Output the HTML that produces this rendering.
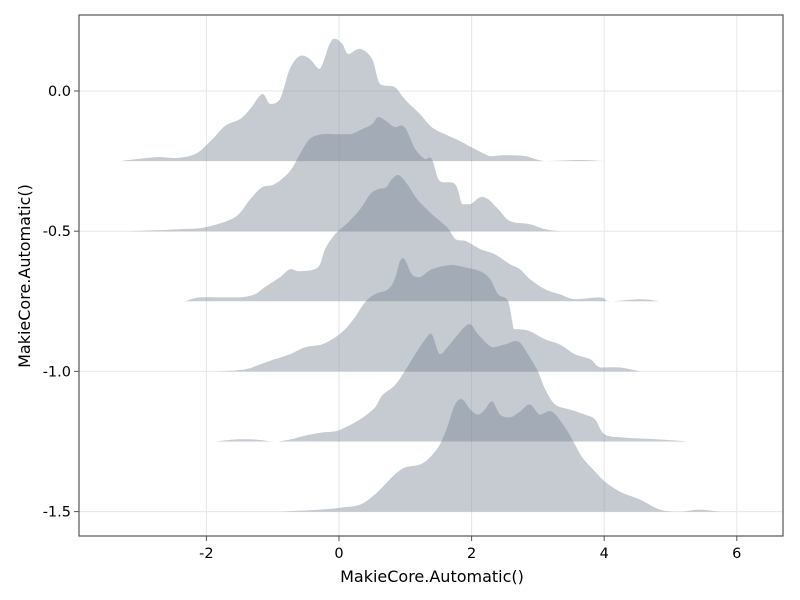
<!DOCTYPE html>
<html><head><meta charset="utf-8"><style>
body{margin:0;background:#fff;}
svg{display:block;font-family:"DejaVu Sans","Liberation Sans",sans-serif;}
</style></head><body>
<svg id="chart" width="800" height="600" viewBox="0 0 800 600" xmlns="http://www.w3.org/2000/svg">
<g id="grid"></g>
<g id="ridges"></g>
<g id="axes"></g>
</svg>
<script>
const xTicks=[-2,0,2,4,6];
const yTicks=[0,-0.5,-1,-1.5];
const yTickLabels=["0.0","-0.5","-1.0","-1.5"];
const baselines=[-0.25,-0.5,-0.75,-1.0,-1.25,-1.5];
const r1x=[-3.3,-2.78,-2.47,-2.17,-1.95,-1.72,-1.49,-1.34,-1.16,-1.04,-0.89,-0.74,-0.59,-0.44,-0.29,-0.14,-0.06,0.05,0.14,0.32,0.5,0.62,0.84,0.99,1.22,1.4,1.6,1.83,2.05,2.28,2.5,2.81,3.11,3.63,4.0];
const r1h=[0,0.014,0.011,0.025,0.068,0.125,0.15,0.186,0.239,0.204,0.221,0.329,0.375,0.364,0.329,0.418,0.436,0.418,0.382,0.4,0.364,0.275,0.264,0.221,0.168,0.121,0.096,0.071,0.043,0.018,0.021,0.018,0,0.004,0];
const r2x=[-3.15,-2.4,-2.02,-1.57,-1.34,-1.16,-0.97,-0.74,-0.59,-0.44,-0.26,-0.06,0.17,0.35,0.5,0.59,0.71,0.84,0.99,1.15,1.3,1.4,1.52,1.75,1.86,1.98,2.13,2.25,2.4,2.58,2.88,3.11,3.33];
const r2h=[0,0.007,0.014,0.05,0.114,0.157,0.168,0.214,0.275,0.329,0.346,0.346,0.346,0.364,0.382,0.407,0.393,0.371,0.371,0.293,0.257,0.257,0.179,0.168,0.096,0.096,0.121,0.114,0.079,0.036,0.025,0.007,0];
const r3x=[-2.32,-2.1,-1.79,-1.49,-1.27,-1.12,-0.89,-0.74,-0.59,-0.32,-0.21,-0.06,0.14,0.32,0.47,0.59,0.71,0.8,0.9,1.03,1.18,1.4,1.63,1.76,1.92,2.13,2.35,2.58,2.73,2.88,3.11,3.33,3.56,3.94,4.09,4.54,4.84];
const r3h=[0,0.014,0.014,0.014,0.025,0.05,0.086,0.114,0.107,0.121,0.186,0.239,0.282,0.329,0.382,0.4,0.407,0.436,0.45,0.418,0.364,0.311,0.264,0.221,0.214,0.186,0.168,0.132,0.114,0.079,0.043,0.025,0.007,0.014,0,0.007,0];
const r4x=[-1.79,-1.42,-1.19,-0.97,-0.74,-0.51,-0.26,-0.06,0.09,0.24,0.39,0.54,0.74,0.84,0.92,0.99,1.1,1.22,1.4,1.67,1.9,2.13,2.28,2.4,2.55,2.64,2.73,2.88,3.11,3.33,3.56,3.79,3.94,4.24,4.54];
const r4h=[0,0.007,0.025,0.043,0.061,0.086,0.096,0.121,0.15,0.193,0.246,0.275,0.293,0.329,0.393,0.4,0.346,0.336,0.364,0.379,0.371,0.357,0.329,0.275,0.25,0.15,0.15,0.143,0.114,0.096,0.061,0.043,0.014,0.014,0];
const r5x=[-1.87,-1.57,-1.27,-0.97,-0.74,-0.51,-0.26,-0.06,0.09,0.32,0.54,0.65,0.84,0.99,1.15,1.3,1.4,1.52,1.67,1.86,1.98,2.1,2.31,2.5,2.7,2.85,3.0,3.11,3.26,3.48,3.71,3.86,4.01,4.31,4.84,5.29];
const r5h=[0,0.007,0.007,0,0.007,0.021,0.032,0.036,0.05,0.079,0.121,0.164,0.2,0.25,0.311,0.364,0.382,0.311,0.346,0.4,0.418,0.382,0.336,0.346,0.357,0.311,0.25,0.186,0.132,0.114,0.096,0.079,0.025,0.014,0.007,0];
const r6x=[-0.89,-0.29,0.02,0.32,0.54,0.69,0.84,0.99,1.22,1.37,1.52,1.63,1.75,1.86,1.98,2.1,2.2,2.31,2.43,2.58,2.73,2.88,3.03,3.21,3.41,3.56,3.67,3.86,4.01,4.24,4.54,4.84,5.14,5.44,5.75,6.0];
const r6h=[0,0.007,0.014,0.025,0.061,0.096,0.132,0.157,0.168,0.193,0.239,0.3,0.382,0.4,0.364,0.346,0.364,0.393,0.346,0.336,0.357,0.382,0.346,0.357,0.3,0.239,0.193,0.143,0.107,0.071,0.043,0.007,0,0.007,0,0];
const ridgeX=[r1x,r2x,r3x,r4x,r5x,r6x];
const ridgeH=[r1h,r2h,r3h,r4h,r5h,r6h];

const L=79,R=783,T=15,B=536;
const sx=v=>339+v*66.3;
const sy=v=>91-v*280.4;
const NS="http://www.w3.org/2000/svg";
function mk(tag,attrs,parent){const e=document.createElementNS(NS,tag);for(const k in attrs)e.setAttribute(k,attrs[k]);parent.appendChild(e);return e;}
const grid=document.getElementById('grid'),ridges=document.getElementById('ridges'),axes=document.getElementById('axes');
xTicks.forEach(t=>{const l=mk('line',{x1:sx(t),x2:sx(t),y1:T,y2:B,stroke:'#e6e6e6','stroke-width':1},grid);

});
yTicks.forEach(t=>{const l=mk('line',{x1:L,x2:R,y1:sy(t),y2:sy(t),stroke:'#e6e6e6','stroke-width':1},grid);

});
function smooth(pts){let d=`M${pts[0][0]},${pts[0][1]}`;for(let i=0;i<pts.length-1;i++){const p0=pts[Math.max(0,i-1)],p1=pts[i],p2=pts[i+1],p3=pts[Math.min(pts.length-1,i+2)];
const c1x=p1[0]+(p2[0]-p0[0])/6,c1y=p1[1]+(p2[1]-p0[1])/6,c2x=p2[0]-(p3[0]-p1[0])/6,c2y=p2[1]-(p3[1]-p1[1])/6;
d+=` C${c1x.toFixed(1)},${Math.min(c1y,Math.max(p1[1],p2[1])).toFixed(1)} ${c2x.toFixed(1)},${Math.min(c2y,Math.max(p1[1],p2[1])).toFixed(1)} ${p2[0].toFixed(1)},${p2[1].toFixed(1)}`;}return d;}
ridgeX.forEach((xs,i)=>{const b=baselines[i];const pts=xs.map((x,j)=>[sx(x),sy(b+ridgeH[i][j])]);
let d=smooth(pts)+` L${sx(xs[xs.length-1])},${sy(b)} L${sx(xs[0])},${sy(b)} Z`;
const p=mk('path',{d:d,fill:'rgb(114,128,143)','fill-opacity':0.41},ridges);

});
const frame=mk('rect',{x:L,y:T,width:R-L,height:B-T,fill:'none',stroke:'#555','stroke-width':1.2},axes);


xTicks.forEach(t=>{const l=mk('line',{x1:sx(t),x2:sx(t),y1:B,y2:B+5,stroke:'#555','stroke-width':1},axes);


const tx=mk('text',{x:sx(t),y:B+22,'text-anchor':'middle','font-size':14.5,fill:'#000'},axes);tx.textContent=String(t);

});
yTicks.forEach((t,i)=>{const l=mk('line',{x1:L-5,x2:L,y1:sy(t),y2:sy(t),stroke:'#555','stroke-width':1},axes);


const tx=mk('text',{x:L-8,y:sy(t)+5,'text-anchor':'end','font-size':14.5,fill:'#000'},axes);tx.textContent=yTickLabels[i];

});
const xt=mk('text',{x:432,y:582,'text-anchor':'middle','font-size':16,fill:'#000'},axes);xt.textContent='MakieCore.Automatic()';


const yt=mk('text',{x:0,y:0,'text-anchor':'middle','font-size':16,fill:'#000',transform:'translate(30,276) rotate(-90)'},axes);yt.textContent='MakieCore.Automatic()';


</script>
</body></html>
